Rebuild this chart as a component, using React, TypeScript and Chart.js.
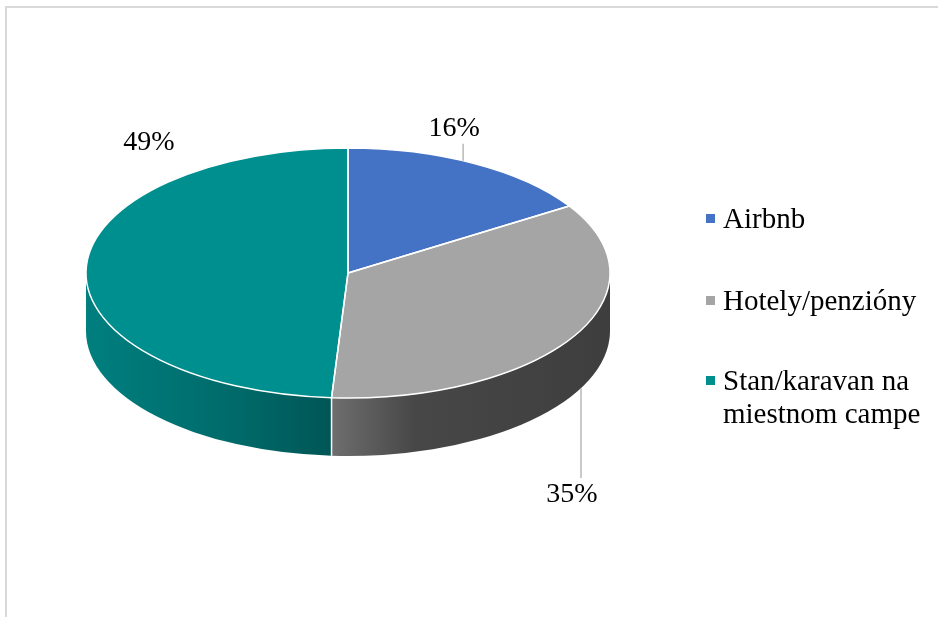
import React, { useEffect, useRef } from 'react';
import { Chart, registerables } from 'chart.js';

Chart.register(...registerables);

// ---- data ----
const categories = ['Airbnb', 'Hotely/penzióny', 'Stan/karavan na miestnom campe'];
const legendLines = [['Airbnb'], ['Hotely/penzióny'], ['Stan/karavan na', 'miestnom campe']];
const shares = [16, 35, 49];
const percentLabels = ['16%', '35%', '49%'];

// ---- styles ----
const topColors = ['#4472C4', '#A5A5A5', '#008F8F'];
const sideStops: [number, string][][] = [
  [[0, '#2f5597'], [1, '#233f70']],
  [[0, '#6e6e6e'], [0.3, '#474747'], [1, '#3e3e3e']],
  [[0, '#007f7f'], [0.6, '#006a6a'], [1, '#005656']],
];
// label placement in ellipse-normalised units (u: x / rx, v: y / ry from the centre)
const labelPlacement = [
  { u: 0.405, v: -1.155, leader: 'top' },
  { u: 0.855, v: 1.775, leader: 'side' },
  { u: -0.76, v: -1.045, leader: 'none' },
];

const GEOM = { cx: 348, cy: 273, rx: 262, ry: 125, depth: 58 };
const LABEL_FONT = '28px "Liberation Serif", "Times New Roman", serif';

const pie3d = {
  id: 'pie3d',
  beforeDatasetsDraw(chart: any) {
    const ctx: CanvasRenderingContext2D = chart.ctx;
    const meta = chart.getDatasetMeta(0);
    const { cx, cy, rx, ry, depth } = GEOM;
    ctx.save();
    meta.data.forEach((arc: any, i: number) => {
      const { startAngle, endAngle } = arc.getProps(['startAngle', 'endAngle'], true);
      const ranges = [[0, Math.PI], [2 * Math.PI, 3 * Math.PI], [-2 * Math.PI, -Math.PI]];
      for (const [lo, hi] of ranges) {
        const a1 = Math.max(startAngle, lo);
        const a2 = Math.min(endAngle, hi);
        if (a2 <= a1) continue;
        const xl = cx + rx * Math.cos(a2);
        const xr = cx + rx * Math.cos(a1);
        ctx.beginPath();
        ctx.ellipse(cx, cy, rx, ry, 0, a1, a2, false);
        ctx.lineTo(xl, cy + ry * Math.sin(a2) + depth);
        ctx.ellipse(cx, cy + depth, rx, ry, 0, a2, a1, true);
        ctx.closePath();
        const g = ctx.createLinearGradient(xl, 0, xr, 0);
        sideStops[i].forEach(([o, c]) => g.addColorStop(o, c));
        ctx.fillStyle = g;
        ctx.fill();
      }
    });
    // white seams on the side at slice boundaries
    ctx.strokeStyle = '#ffffff';
    ctx.lineWidth = 1.5;
    meta.data.forEach((arc: any) => {
      const { startAngle } = arc.getProps(['startAngle'], true);
      const a = ((startAngle % (2 * Math.PI)) + 2 * Math.PI) % (2 * Math.PI);
      if (a > 0.01 && a < Math.PI - 0.01) {
        const x = cx + rx * Math.cos(a);
        const y = cy + ry * Math.sin(a);
        ctx.beginPath();
        ctx.moveTo(x, y);
        ctx.lineTo(x, y + depth);
        ctx.stroke();
      }
    });
    ctx.restore();

    // squash the library's arcs onto the ellipse
    const first = meta.data[0];
    const R = first.outerRadius;
    ctx.save();
    ctx.translate(cx, cy);
    ctx.scale(rx / R, ry / R);
    ctx.translate(-first.x, -first.y);
  },
  afterDatasetsDraw(chart: any) {
    const ctx: CanvasRenderingContext2D = chart.ctx;
    ctx.restore();
    const meta = chart.getDatasetMeta(0);
    const { cx, cy, rx, ry, depth } = GEOM;
    ctx.save();
    ctx.strokeStyle = '#ffffff';
    ctx.lineWidth = 1.5;
    ctx.lineJoin = 'round';
    meta.data.forEach((arc: any) => {
      const { startAngle, endAngle } = arc.getProps(['startAngle', 'endAngle'], true);
      ctx.beginPath();
      ctx.moveTo(cx, cy);
      ctx.ellipse(cx, cy, rx, ry, 0, startAngle, endAngle, false);
      ctx.closePath();
      ctx.stroke();
    });

    // labels + leader lines
    ctx.font = LABEL_FONT;
    ctx.fillStyle = '#000000';
    ctx.textAlign = 'center';
    ctx.textBaseline = 'middle';
    const data = chart.data.datasets[0].data as number[];
    meta.data.forEach((_arc: any, i: number) => {
      const p = labelPlacement[i];
      const lx = cx + p.u * rx;
      const ly = cy + p.v * ry;
      ctx.fillText(percentLabels[i] ?? `${data[i]}%`, lx, ly);
      if (p.leader !== 'none') {
        const x = lx + 9;
        const du = (x - cx) / rx;
        const k = Math.sqrt(Math.max(0, 1 - du * du));
        ctx.strokeStyle = '#a6a6a6';
        ctx.lineWidth = 1.2;
        ctx.beginPath();
        if (p.leader === 'top') {
          ctx.moveTo(x, ly + 15);
          ctx.lineTo(x, cy - ry * k);
        } else {
          ctx.moveTo(x, ly - 17);
          ctx.lineTo(x, cy + ry * k + depth);
        }
        ctx.stroke();
      }
    });
    ctx.restore();
  },
};

export default function App() {
  const canvasRef = useRef<HTMLCanvasElement | null>(null);

  useEffect(() => {
    document.body.style.margin = '0';
    const canvas = canvasRef.current;
    if (!canvas) return;
    const chart = new Chart(canvas, {
      type: 'pie',
      data: {
        labels: categories,
        datasets: [
          {
            data: shares,
            backgroundColor: topColors,
            borderWidth: 0,
            clip: false as any,
          } as any,
        ],
      },
      options: {
        responsive: false,
        animation: false,
        devicePixelRatio: 1,
        events: [],
        layout: { padding: 0 },
        plugins: {
          legend: { display: false },
          tooltip: { enabled: false },
        },
      },
      plugins: [pie3d as any],
    });
    return () => chart.destroy();
  }, []);

  const legendTop = [218, 300, 380];
  return (
    <div
      style={{
        position: 'relative',
        width: 938,
        height: 617,
        overflow: 'hidden',
        background: '#ffffff',
        fontFamily: '"Liberation Serif", "Times New Roman", serif',
      }}
    >
      <canvas
        ref={canvasRef}
        width={938}
        height={617}
        style={{ position: 'absolute', left: 0, top: 0, width: 938, height: 617 }}
      />
      <div
        style={{
          position: 'absolute',
          left: 5,
          top: 6,
          width: 960,
          height: 640,
          border: '2px solid #d9d9d9',
          boxSizing: 'border-box',
          pointerEvents: 'none',
        }}
      />
      {legendLines.map((lines, i) => (
        <div key={i}>
          <div
            style={{
              position: 'absolute',
              left: 706,
              top: legendTop[i] - 4.5,
              width: 9,
              height: 9,
              background: topColors[i],
            }}
          />
          <div
            style={{
              position: 'absolute',
              left: 723,
              top: legendTop[i] - 16.5,
              fontSize: 29,
              lineHeight: '33px',
              color: '#000',
              whiteSpace: 'nowrap',
            }}
          >
            {lines.map((t, j) => (
              <div key={j}>{t}</div>
            ))}
          </div>
        </div>
      ))}
    </div>
  );
}
